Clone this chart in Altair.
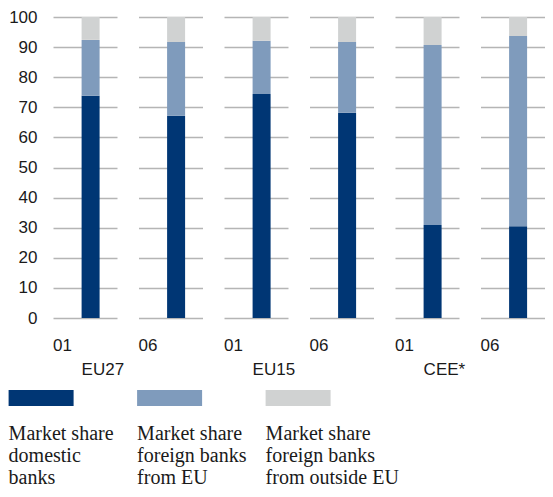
import altair as alt
import pandas as pd

# ---- data ----
groups = ["EU27", "EU27", "EU15", "EU15", "CEE*", "CEE*"]
periods = ["01", "06", "01", "06", "01", "06"]
domestic = [73.8, 67.2, 74.4, 68.2, 30.9, 30.5]
foreign_eu = [18.6, 24.5, 17.7, 23.5, 59.8, 63.2]
foreign_out = [7.6, 8.3, 7.9, 8.3, 9.3, 6.3]

series_names = ["domestic", "foreign_eu", "foreign_out"]
series_labels = [
    "Market share\ndomestic\nbanks",
    "Market share\nforeign banks\nfrom EU",
    "Market share\nforeign banks\nfrom outside EU",
]
colors = ["#003674", "#7f9bbc", "#d0d2d2"]
y_ticks = list(range(0, 101, 10))

rows = []
for i, (g, p) in enumerate(zip(groups, periods)):
    for k, (s, vals) in enumerate(zip(series_names, [domestic, foreign_eu, foreign_out])):
        rows.append(dict(panel=f"{g}|{p}", group=g, period=p, series=s,
                         ord=k, value=vals[i], slot="bar"))
df = pd.DataFrame(rows)
panel_order = [f"{g}|{p}" for g, p in zip(groups, periods)]

W = 64
SPACING = 21.5
H = 301
BAR = 18
pi = (W - 3 * BAR) / (W - BAR)
SANS = "Liberation Sans"
TXT = "#1a1a1a"
SHIFT = 28.6 - (W - BAR) / 2

xscale = alt.Scale(paddingInner=pi, paddingOuter=1)

bars = alt.Chart().mark_bar(size=BAR, xOffset=SHIFT).encode(
    x=alt.X("slot:N", axis=None, scale=xscale),
    y=alt.Y("value:Q", stack="zero",
            scale=alt.Scale(domain=[0, 100], nice=False),
            axis=alt.Axis(values=y_ticks, title=None, ticks=False, domain=False,
                          labelPadding=16, labelFontSize=17, labelFont=SANS,
                          labelColor=TXT, grid=True, gridColor="#b5b5b5",
                          gridWidth=1.5)),
    color=alt.Color("series:N", scale=alt.Scale(domain=series_names, range=colors),
                    legend=None),
    order=alt.Order("ord:Q"),
)

glabels = alt.Chart().transform_filter(
    "datum.period == '01' && datum.ord == 0"
).mark_text(align="left", baseline="alphabetic", fontSize=17, font=SANS,
            color=TXT, dx=SHIFT).encode(
    x=alt.X("slot:N", bandPosition=0, axis=None, scale=xscale),
    y=alt.value(H + 57),
    text="group:N",
)

top = alt.layer(bars, glabels, data=df).properties(width=W, height=H).facet(
    column=alt.Column(
        "panel:N", sort=panel_order, title=None,
        header=alt.Header(labelOrient="bottom", labelAnchor="start",
                          labelAlign="left",
                          labelExpr="split(datum.value, '|')[1]",
                          labelFontSize=17, labelFont=SANS, labelColor=TXT,
                          labelPadding=20, title=None)),
    spacing=SPACING,
    bounds="flush",
)

leg_df = pd.DataFrame({"series": series_names, "label": series_labels,
                       "pos": [0, 1, 2]})
LW = 385.5
LOFF = -44.4
lx = alt.X("pos:Q", axis=None, scale=alt.Scale(domain=[0, 3], nice=False))

swatch = alt.Chart().transform_calculate(
    pos2="datum.pos + 65 / 128.5"
).mark_rect(xOffset=LOFF, x2Offset=LOFF).encode(
    x=lx,
    x2="pos2:Q",
    y=alt.value(0),
    y2=alt.value(16),
    color=alt.Color("series:N", scale=alt.Scale(domain=series_names, range=colors),
                    legend=None),
)

ltext = alt.Chart().mark_text(
    align="left", baseline="alphabetic", lineBreak="\n", lineHeight=21.75,
    font="Liberation Serif", fontSize=20, color=TXT, dx=LOFF,
).encode(
    x=lx,
    y=alt.value(50),
    text="label:N",
)

legend = alt.layer(swatch, ltext, data=leg_df).properties(width=LW, height=16)

chart = alt.vconcat(top, legend, spacing=12).properties(
    padding={"left": 0, "top": 0, "right": 0, "bottom": 0}
).configure_view(stroke=None)

chart.save("out.html", embed_options={"renderer": "svg", "actions": False})
